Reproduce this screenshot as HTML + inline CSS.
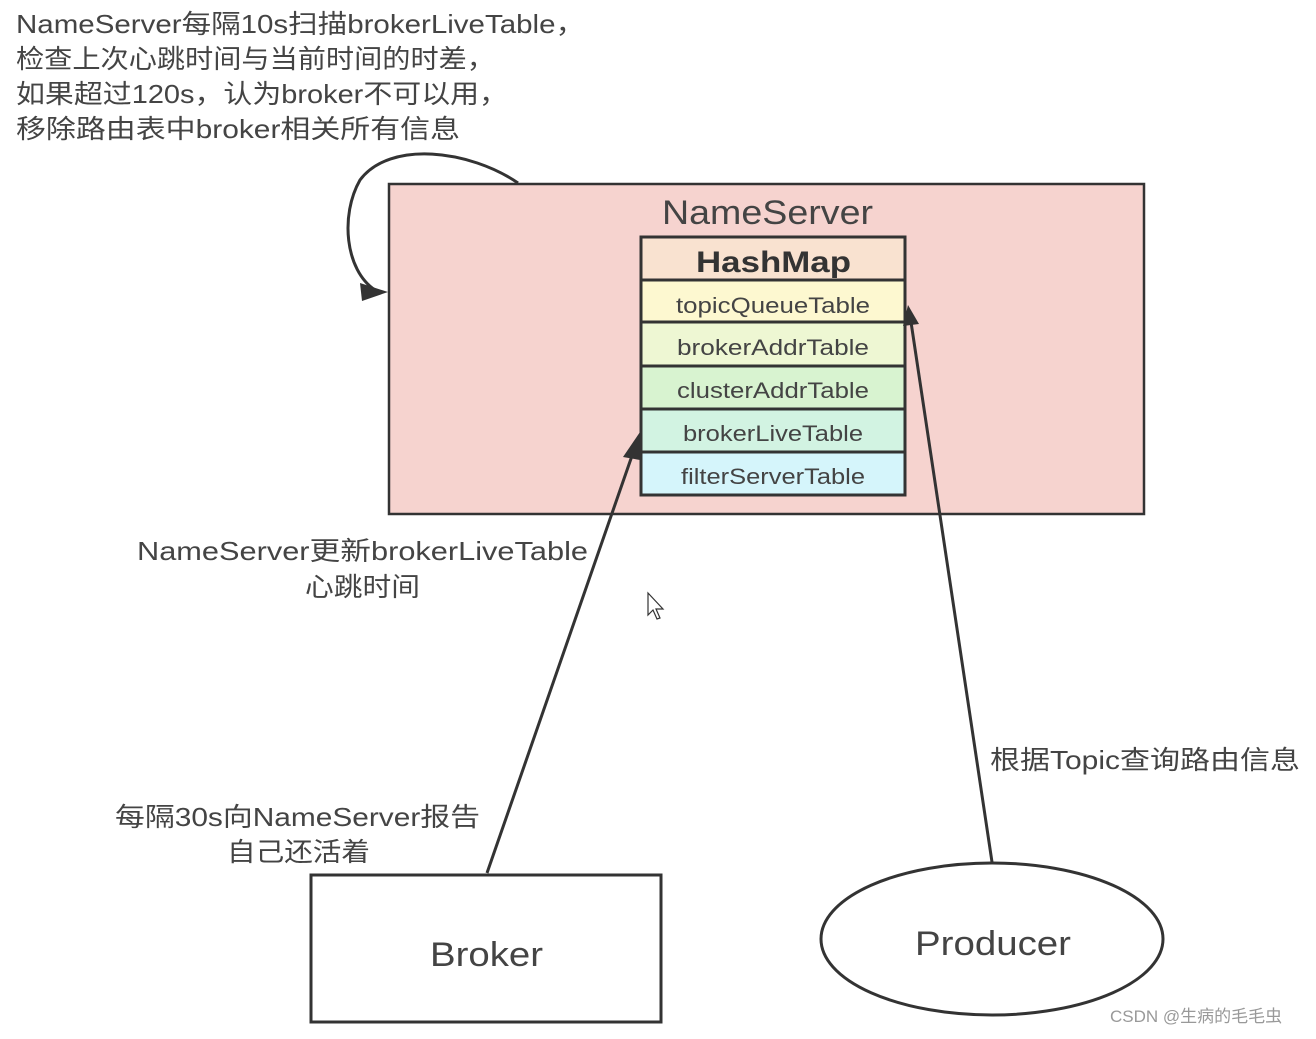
<!DOCTYPE html>
<html><head><meta charset="utf-8"><style>
body{margin:0;background:#fff;}
svg text{font-family:"Liberation Sans","Noto Sans CJK SC",sans-serif;fill:#444;}
</style></head><body>
<svg width="1316" height="1034" xmlns="http://www.w3.org/2000/svg">
<g font-size="26">
<text x="16" y="33" textLength="569" lengthAdjust="spacingAndGlyphs">NameServer每隔10s扫描brokerLiveTable，</text>
<text x="16" y="68" textLength="479" lengthAdjust="spacingAndGlyphs">检查上次心跳时间与当前时间的时差，</text>
<text x="16" y="103" textLength="492" lengthAdjust="spacingAndGlyphs">如果超过120s，认为broker不可以用，</text>
<text x="16" y="138" textLength="444" lengthAdjust="spacingAndGlyphs">移除路由表中broker相关所有信息</text>
</g>
<rect x="389" y="184" width="755" height="330" fill="#f6d3cf" stroke="#333" stroke-width="2.5"/>
<text x="662" y="224" font-size="34" textLength="211" lengthAdjust="spacingAndGlyphs">NameServer</text>
<rect x="641" y="237" width="264" height="43" fill="#f9e2d0" stroke="#333" stroke-width="3"/>
<text x="696" y="272" font-size="30" font-weight="bold" textLength="155" lengthAdjust="spacingAndGlyphs" style="fill:#333">HashMap</text>
<rect x="641" y="280" width="264" height="42" fill="#fdf8d0" stroke="#333" stroke-width="3"/>
<rect x="641" y="322" width="264" height="44" fill="#eef7d3" stroke="#333" stroke-width="3"/>
<rect x="641" y="366" width="264" height="43" fill="#d8f3d0" stroke="#333" stroke-width="3"/>
<rect x="641" y="409" width="264" height="43" fill="#d2f3e2" stroke="#333" stroke-width="3"/>
<rect x="641" y="452" width="264" height="43" fill="#d5f5fb" stroke="#333" stroke-width="3"/>
<g font-size="22" lengthAdjust="spacingAndGlyphs">
<text x="676" y="313" textLength="194" lengthAdjust="spacingAndGlyphs">topicQueueTable</text>
<text x="677" y="355" textLength="192" lengthAdjust="spacingAndGlyphs">brokerAddrTable</text>
<text x="677" y="398" textLength="192" lengthAdjust="spacingAndGlyphs">clusterAddrTable</text>
<text x="683" y="441" textLength="180" lengthAdjust="spacingAndGlyphs">brokerLiveTable</text>
<text x="681" y="484" textLength="184" lengthAdjust="spacingAndGlyphs">filterServerTable</text>
</g>
<path d="M518,183 C470,150 390,140 360,180 C340,215 345,270 375,290" fill="none" stroke="#333" stroke-width="3"/>
<polygon points="388,292 360,283 362,301" fill="#333"/>
<line x1="487" y1="873" x2="634" y2="450" stroke="#333" stroke-width="3"/>
<polygon points="640,432 623,457 640,460" fill="#333"/>
<line x1="992" y1="862" x2="911" y2="322" stroke="#333" stroke-width="3"/>
<polygon points="908,305 903,326 919,324" fill="#333"/>
<g font-size="26">
<text x="137" y="560" textLength="451" lengthAdjust="spacingAndGlyphs">NameServer更新brokerLiveTable</text>
<text x="305" y="596" textLength="115" lengthAdjust="spacingAndGlyphs">心跳时间</text>
<text x="115" y="826" textLength="365" lengthAdjust="spacingAndGlyphs">每隔30s向NameServer报告</text>
<text x="227" y="861" textLength="143" lengthAdjust="spacingAndGlyphs">自己还活着</text>
<text x="990" y="769" textLength="310" lengthAdjust="spacingAndGlyphs">根据Topic查询路由信息</text>
</g>
<rect x="311" y="875" width="350" height="147" fill="#fff" stroke="#333" stroke-width="3"/>
<text x="430" y="966" font-size="34" textLength="113" lengthAdjust="spacingAndGlyphs">Broker</text>
<ellipse cx="992" cy="939" rx="171" ry="76" fill="#fff" stroke="#333" stroke-width="3"/>
<text x="915" y="955" font-size="34" textLength="156" lengthAdjust="spacingAndGlyphs">Producer</text>
<path d="M648,593 L648,615 L653,610 L657,619 L660,618 L656,609 L663,609 Z" fill="#fff" stroke="#333" stroke-width="1.2"/>
<text x="1110" y="1022" font-size="17" style="fill:#999">CSDN @生病的毛毛虫</text>
</svg>
</body></html>
